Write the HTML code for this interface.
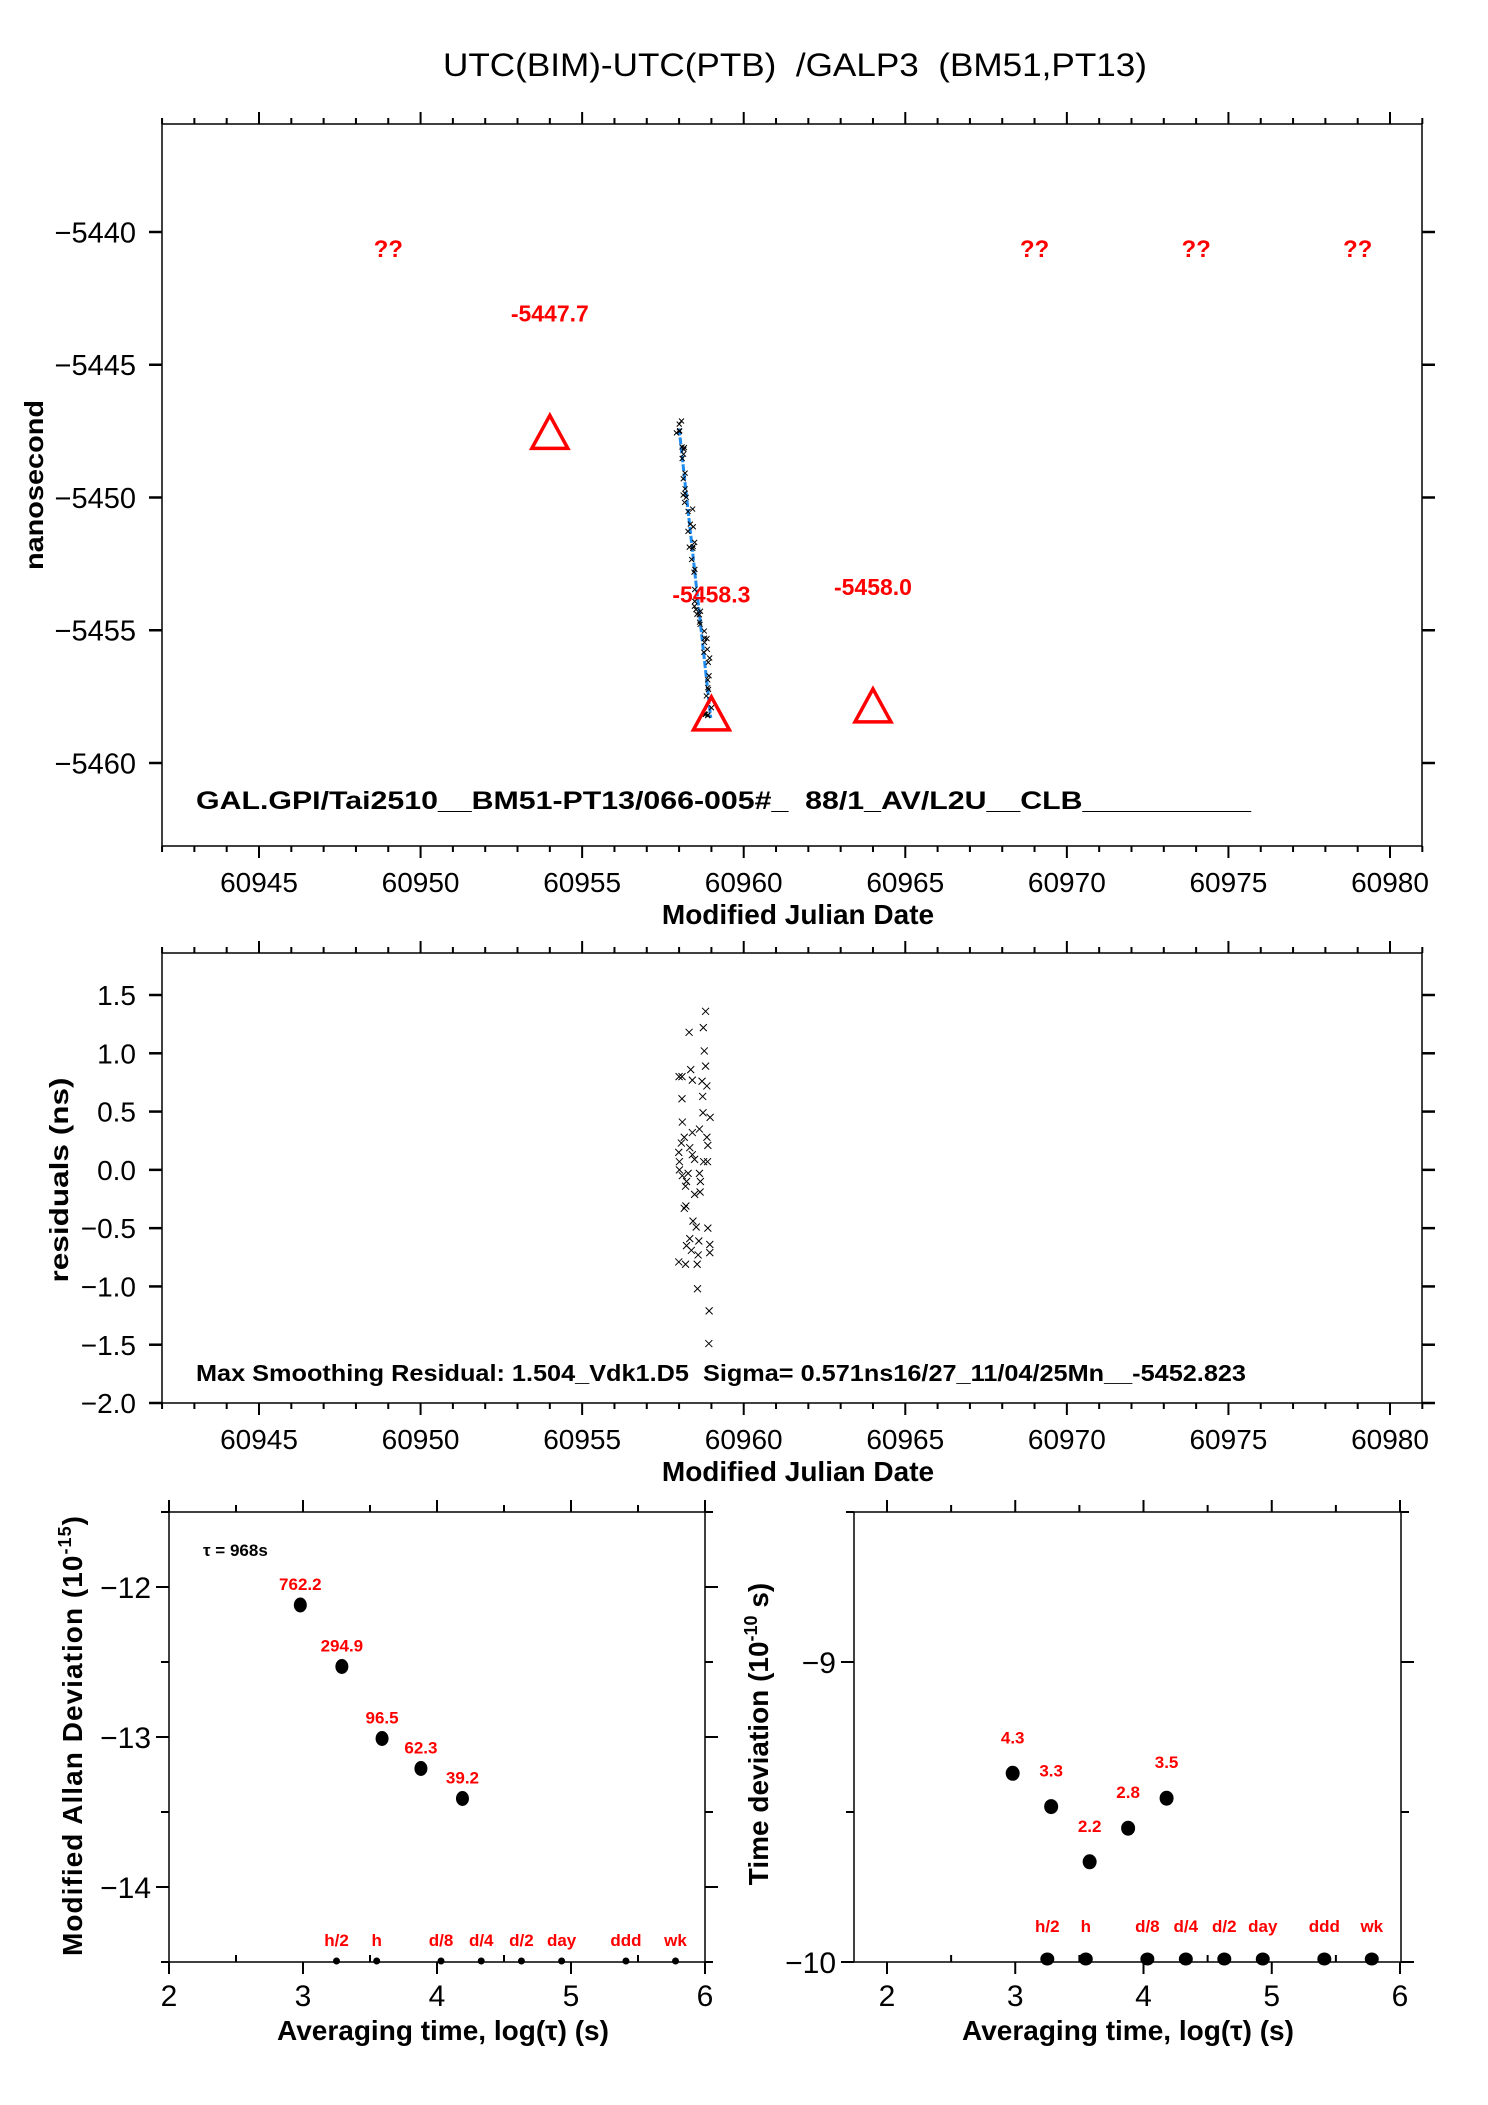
<!DOCTYPE html>
<html><head><meta charset="utf-8"><title>UTC(BIM)-UTC(PTB) GALP3</title>
<style>
html,body{margin:0;padding:0;background:#fff;}
svg{display:block;font-family:"Liberation Sans",Arial,sans-serif;}
</style></head>
<body>
<svg id="fig" width="1488" height="2105" viewBox="0 0 1488 2105" xmlns="http://www.w3.org/2000/svg">
<rect x="0" y="0" width="1488" height="2105" fill="#fff"/>
<text x="795" y="76" font-size="32" text-anchor="middle" textLength="704" lengthAdjust="spacingAndGlyphs" xml:space="preserve">UTC(BIM)-UTC(PTB)  /GALP3  (BM51,PT13)</text>
<text transform="translate(43,485) rotate(-90)" font-size="26" font-weight="bold" text-anchor="middle" textLength="170" lengthAdjust="spacingAndGlyphs">nanosecond</text>
<text x="798" y="924" font-size="28" font-weight="bold" text-anchor="middle">Modified Julian Date</text>
<text x="196" y="809" font-size="25" font-weight="bold" textLength="1055" lengthAdjust="spacingAndGlyphs" xml:space="preserve">GAL.GPI/Tai2510__BM51-PT13/066-005#_  88/1_AV/L2U__CLB__________</text>
<text transform="translate(68,1180) rotate(-90)" font-size="26" font-weight="bold" text-anchor="middle" textLength="205" lengthAdjust="spacingAndGlyphs">residuals (ns)</text>
<text x="798" y="1481" font-size="28" font-weight="bold" text-anchor="middle">Modified Julian Date</text>
<text x="196" y="1381" font-size="23" font-weight="bold" textLength="1050" lengthAdjust="spacingAndGlyphs" xml:space="preserve">Max Smoothing Residual: 1.504_Vdk1.D5  Sigma= 0.571ns16/27_11/04/25Mn__-5452.823</text>
<text transform="translate(82,1736) rotate(-90)" font-size="28" font-weight="bold" text-anchor="middle" textLength="440" lengthAdjust="spacing">Modified Allan Deviation (10<tspan font-size="18" dy="-11">-15</tspan><tspan dy="11">)</tspan></text>
<text transform="translate(768,1734) rotate(-90)" font-size="28" font-weight="bold" text-anchor="middle">Time deviation (10<tspan font-size="18" dy="-11">-10</tspan><tspan dy="11"> s)</tspan></text>
<text x="443" y="2040" font-size="28" font-weight="bold" text-anchor="middle">Averaging time, log(τ) (s)</text>
<text x="1128" y="2040" font-size="28" font-weight="bold" text-anchor="middle">Averaging time, log(τ) (s)</text>
<text x="203" y="1556" font-size="17" font-weight="bold">τ = 968s</text>
<g id="layer"></g>
</svg>
<script>
// ---- data ----
var mjdT = [60958.82,60958.75,60958.31,60958.78,60958.82,60958.36,60958.09,60958.41,60958.71,60958.86,60958.09,60958.73,60958.74,60958.96,60958.10,60958.63,60958.41,60958.16,60958.86,60958.07,60958.33,60958.89,60957.99,60958.41,60958.76,60958.01,60958.88,60958.48,60958.01,60958.63,60958.10,60958.28,60958.23,60958.66,60958.48,60958.20,60958.65,60958.16,60958.21,60958.43,60958.53,60958.89,60958.33,60958.95,60958.61,60958.23,60958.38,60958.59,60958.95,60957.99,60958.20,60958.56,60958.57,60958.93,60958.92,60958.00];
var residNs = [1.36,1.22,1.18,1.02,0.89,0.86,0.80,0.77,0.76,0.72,0.61,0.63,0.49,0.45,0.41,0.35,0.32,0.28,0.28,0.23,0.19,0.21,0.15,0.13,0.07,0.07,0.07,0.09,0.00,-0.03,-0.05,-0.03,-0.10,-0.10,-0.21,-0.14,-0.19,-0.33,-0.31,-0.44,-0.49,-0.50,-0.59,-0.64,-0.61,-0.65,-0.69,-0.73,-0.71,-0.79,-0.81,-0.81,-1.02,-1.21,-1.49,0.80];
var fitT = [60958.0, 60958.98];
var fitV = [-5447.4, -5458.3];
var triT = [60954, 60959, 60964];
var triV = [-5447.7, -5458.3, -5458.0];
var triLabels = ["-5447.7", "-5458.3", "-5458.0"];
var unkT = [60949, 60969, 60974, 60979];
var mdevX = [2.98, 3.29, 3.59, 3.88, 4.19];
var mdevY = [-12.12, -12.53, -13.01, -13.21, -13.41];
var mdevLabels = ["762.2", "294.9", "96.5", "62.3", "39.2"];
var tdevX = [2.98, 3.28, 3.58, 3.88, 4.18];
var tdevY = [-9.371, -9.482, -9.666, -9.554, -9.454];
var tdevLabels = ["4.3", "3.3", "2.2", "2.8", "3.5"];
var tauMarkX = [3.25, 3.55, 4.03, 4.33, 4.63, 4.93, 5.41, 5.78];
var tauMarkLabels = ["h/2", "h", "d/8", "d/4", "d/2", "day", "ddd", "wk"];
var topYTicks = [-5440, -5445, -5450, -5455, -5460];
var resYTicks = [1.5, 1.0, 0.5, 0.0, -0.5, -1.0, -1.5, -2.0];
var mjdMajorTicks = [60945, 60950, 60955, 60960, 60965, 60970, 60975, 60980];

var NS = "http://www.w3.org/2000/svg";
var layer = document.getElementById("layer");
function mk(tag, attrs, parent) {
  var e = document.createElementNS(NS, tag);
  for (var k in attrs) e.setAttribute(k, attrs[k]);
  (parent || layer).appendChild(e);
  return e;
}
function lin(d0, d1, r0, r1) { return function (v) { return r0 + (v - d0) * (r1 - r0) / (d1 - d0); }; }
function fmt(v, dec) { var s = Math.abs(v).toFixed(dec); return (v < 0 ? "\u2212" : "") + s; }

// ---- top panel ----
var P1 = {l: 162, r: 1422, t: 124, b: 846};
var X1 = lin(60945, 60980, 259, 1390);
var Y1 = lin(-5440, -5460, 232, 763);
var P2 = {l: 162, r: 1422, t: 953, b: 1403};
var Y2 = lin(1.5, -2.0, 995, 1403);

function frame(P, name) {
  var r = mk("rect", {x: P.l, y: P.t, width: P.r - P.l, height: P.b - P.t, fill: "none", stroke: "#000", "stroke-width": 1.5});
  
  
}
function mjdAxis(P, labelY, name) {
  var g = mk("g", {});
  
  
  for (var d = 60942; d <= 60981; d++) {
    var x = X1(d), major = (d % 5 === 0);
    var L = major ? 12 : 6;
    mk("line", {x1: x, x2: x, y1: P.t, y2: P.t - L, stroke: "#000", "stroke-width": 2}, g);
    mk("line", {x1: x, x2: x, y1: P.b, y2: P.b + L, stroke: "#000", "stroke-width": 2}, g);
  }
  mjdMajorTicks.forEach(function (d) {
    var t = mk("text", {x: X1(d), y: labelY, "font-size": 28, "text-anchor": "middle"}, g);
    
    
    t.textContent = d;
  });
}
function yAxis(P, ticks, Y, dec, name, fs) {
  var g = mk("g", {});
  
  
  ticks.forEach(function (v) {
    var y = Y(v);
    mk("line", {x1: P.l - 13, x2: P.l, y1: y, y2: y, stroke: "#000", "stroke-width": 2.5}, g);
    mk("line", {x1: P.r, x2: P.r + 13, y1: y, y2: y, stroke: "#000", "stroke-width": 2.5}, g);
    var t = mk("text", {x: P.l - 26, y: y + fs * 0.36, "font-size": fs, "text-anchor": "end"}, g);
    
    
    t.textContent = fmt(v, dec);
  });
}
frame(P1, "top-plot-frame");
mjdAxis(P1, 892, "top-x-axis");
yAxis(P1, topYTicks, Y1, 0, "top-y-axis", 29);

// fit line
var fl = mk("line", {x1: X1(fitT[0]), y1: Y1(fitV[0]), x2: X1(fitT[1]), y2: Y1(fitV[1]), stroke: "#1e8cf0", "stroke-width": 3, "stroke-dasharray": "7,2"});


function fitAt(t) { return fitV[0] + (t - fitT[0]) * (fitV[1] - fitV[0]) / (fitT[1] - fitT[0]); }
// top data points (fit + residual)
mjdT.forEach(function (t, i) {
  var x = X1(t) + residNs[i] * 3, y = Y1(fitAt(t) + residNs[i] * 0.35), s = 2.5;
  var p = mk("path", {d: "M" + (x - s) + "," + (y - s) + "L" + (x + s) + "," + (y + s) + "M" + (x - s) + "," + (y + s) + "L" + (x + s) + "," + (y - s), stroke: "#000", "stroke-width": 1});
  
  
});
// triangles + labels
triT.forEach(function (t, i) {
  var x = X1(t), y = Y1(triV[i]);
  var tr = mk("polygon", {points: x + "," + (y - 21) + " " + (x - 18) + "," + (y + 12) + " " + (x + 18) + "," + (y + 12), fill: "none", stroke: "#f00", "stroke-width": 3.5});
  
  
  var lb = mk("text", {x: x, y: Y1(triV[i] + 4.6) + 7, "font-size": 23, "font-weight": "bold", fill: "#f00", "text-anchor": "middle"});
  
  
  lb.textContent = triLabels[i];
});
unkT.forEach(function (t) {
  var q = mk("text", {x: X1(t), y: Y1(-5440.6) + 9, "font-size": 24, "font-weight": "bold", fill: "#f00", "text-anchor": "middle"});
  
  
  q.textContent = "??";
});

// ---- residual panel ----
frame(P2, "residual-plot-frame");
mjdAxis(P2, 1449, "residual-x-axis");
yAxis(P2, resYTicks, Y2, 1, "residual-y-axis", 28);
mjdT.forEach(function (t, i) {
  var x = X1(t), y = Y2(residNs[i]), s = 3.5;
  var p = mk("path", {d: "M" + (x - s) + "," + (y - s) + "L" + (x + s) + "," + (y + s) + "M" + (x - s) + "," + (y + s) + "L" + (x + s) + "," + (y - s), stroke: "#000", "stroke-width": 1});
  
  
});

// ---- stability panels ----
function stabPanel(P, X, Y, yMaj, yMin, name) {
  frame(P, name + "-frame");
  var g = mk("g", {});
  
  
  for (var v = 2; v <= 6.001; v += 0.5) {
    var x = X(v), major = Math.abs(v - Math.round(v)) < 0.01;
    if (major) {
      mk("line", {x1: x, x2: x, y1: P.t, y2: P.t - 12, stroke: "#000", "stroke-width": 2}, g);
      mk("line", {x1: x, x2: x, y1: P.b, y2: P.b + 12, stroke: "#000", "stroke-width": 2}, g);
      var t = mk("text", {x: x, y: P.b + 44, "font-size": 30, "text-anchor": "middle"}, g);
      
      
      t.textContent = Math.round(v);
    } else {
      mk("line", {x1: x, x2: x, y1: P.t, y2: P.t - 7, stroke: "#000", "stroke-width": 2}, g);
      mk("line", {x1: x, x2: x, y1: P.b, y2: P.b - 7, stroke: "#000", "stroke-width": 2}, g);
    }
  }
  yMaj.forEach(function (v) {
    var y = Y(v);
    mk("line", {x1: P.l - 13, x2: P.l, y1: y, y2: y, stroke: "#000", "stroke-width": 2}, g);
    mk("line", {x1: P.r, x2: P.r + 13, y1: y, y2: y, stroke: "#000", "stroke-width": 2}, g);
    var t = mk("text", {x: P.l - 18, y: y + 11, "font-size": 30, "text-anchor": "end"}, g);
    
    
    t.textContent = fmt(v, 0);
  });
  yMin.forEach(function (v) {
    var y = Y(v);
    mk("line", {x1: P.l - 8, x2: P.l, y1: y, y2: y, stroke: "#000", "stroke-width": 2}, g);
    mk("line", {x1: P.r, x2: P.r + 8, y1: y, y2: y, stroke: "#000", "stroke-width": 2}, g);
  });
}
var P3 = {l: 169, r: 705, t: 1512, b: 1962};
var X3 = lin(2, 6, 169, 705), Y3 = lin(-12, -14, 1587, 1887);
stabPanel(P3, X3, Y3, [-12, -13, -14], [-11.5, -12.5, -13.5, -14.5], "mdev-plot");
mdevX.forEach(function (v, i) {
  var c = mk("ellipse", {cx: X3(v), cy: Y3(mdevY[i]), rx: 6.5, ry: 7.5, fill: "#000"});
  
  
  var t = mk("text", {x: X3(v), y: Y3(mdevY[i]) - 15, "font-size": 17, "font-weight": "bold", fill: "#f00", "text-anchor": "middle"});
  
  
  t.textContent = mdevLabels[i];
});
tauMarkX.forEach(function (v, i) {
  var c = mk("circle", {cx: X3(v), cy: P3.b - 1, r: 3.5, fill: "#000"});
  
  
  var t = mk("text", {x: X3(v), y: P3.b - 16, "font-size": 17, "font-weight": "bold", fill: "#f00", "text-anchor": "middle"});
  
  
  t.textContent = tauMarkLabels[i];
});

var P4 = {l: 854, r: 1401, t: 1512, b: 1962};
var X4 = lin(2, 6, 887, 1400), Y4 = lin(-9, -10, 1662, 1962);
stabPanel(P4, X4, Y4, [-9, -10], [-8.5, -9.5], "tdev-plot");
tdevX.forEach(function (v, i) {
  var c = mk("ellipse", {cx: X4(v), cy: Y4(tdevY[i]), rx: 7, ry: 7.5, fill: "#000"});
  
  
  var t = mk("text", {x: X4(v), y: Y4(tdevY[i]) - 30, "font-size": 17, "font-weight": "bold", fill: "#f00", "text-anchor": "middle"});
  
  
  t.textContent = tdevLabels[i];
});
tauMarkX.forEach(function (v, i) {
  var c = mk("ellipse", {cx: X4(v), cy: P4.b - 3, rx: 7, ry: 6.5, fill: "#000"});
  
  
  var t = mk("text", {x: X4(v), y: P4.b - 30, "font-size": 17, "font-weight": "bold", fill: "#f00", "text-anchor": "middle"});
  
  
  t.textContent = tauMarkLabels[i];
});
</script>
</body></html>
